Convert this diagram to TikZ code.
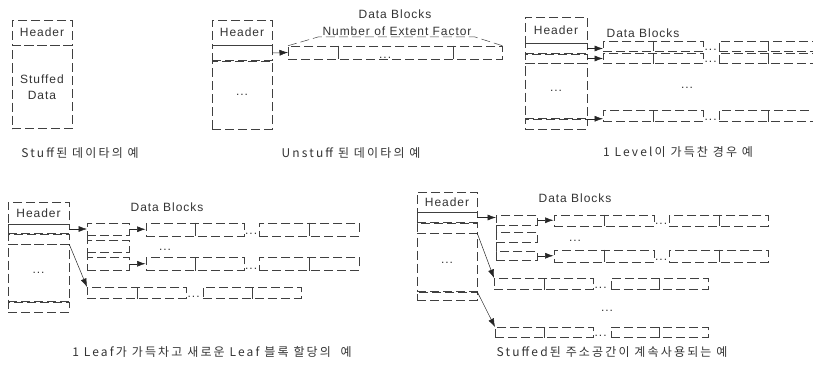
\documentclass[tikz,border=0pt]{standalone}
\usepackage{fontspec}
\setmainfont{Liberation Sans}[LetterSpace=8]
\newfontfamily\kr{Noto Sans CJK KR}[LetterSpace=18]
\usetikzlibrary{positioning,arrows.meta}

\tikzset{
  cell/.style={draw=black!75, line width=0.5pt, dash pattern=on 9pt off 4pt, inner sep=0pt},
  seg/.style={draw=black!75, line width=0.5pt},
  dseg/.style={seg, dash pattern=on 9pt off 4pt},
  ptr/.style={->, draw=black!85, line width=0.5pt},
  dotsty/.style={inner sep=1pt, anchor=south west},
  captxt/.style={font=\kr\fontsize{12}{14}\selectfont},
}

\begin{document}
\begin{tikzpicture}[x=1pt, y=-1pt,
  every node/.style={align=center, font=\fontsize{12}{16}\selectfont, text=black!80},
  >={Latex[length=8.5pt,width=6pt]}]

\useasboundingbox (0,0) rectangle (813,369);
\clip (0,0) rectangle (813,369);

% Stuffed data
\node[cell, minimum width=60, minimum height=25] (hd1) at (42,32.5) {Header};
\node[cell, minimum width=60, minimum height=83, below=0pt of hd1] (sd1) {Stuffed\\Data};
\node[captxt] (cap1) at (80,153) {Stuff된 데이타의 예};

% Unstuffed data
\node[cell, minimum width=60, minimum height=25] (hd2) at (242,32.5) {Header};
\node[cell, minimum width=60, minimum height=15, below=0pt of hd2] (pt2) {};
\node[cell, minimum width=60, minimum height=68, below=0pt of pt2] (rs2) {...};

\node[cell, minimum width=214, minimum height=13, anchor=west] (db2) at (288,52.5) {};
\draw[seg] ([xshift=50]db2.north west) -- ([xshift=50]db2.south west)
  ([xshift=165]db2.north west) -- ([xshift=165]db2.south west);
\node[dotsty] at ([xshift=90]db2.south west) {...};
\draw[dseg] (db2.north west) -- (318,37) -- (475,37) -- (db2.north east);

\node (dbk2) at (395,14) {Data Blocks};
\node (nef2) at (397,31) {Number of Extent Factor};
\draw[ptr] (pt2.east) -- (db2.west);
\node[captxt] (cap2) at (351,153) {Unstuff 된 데이타의 예};

% One level full
\node[cell, minimum width=62, minimum height=26] (hd3) at (556,30) {Header};
\node[cell, minimum width=62, minimum height=10, below=0pt of hd3] (pa3) {};
\node[cell, minimum width=62, minimum height=9, below=0pt of pa3] (pb3) {};
\node[cell, minimum width=62, minimum height=55, below=0pt of pb3] (rs3) {...};
\node[cell, minimum width=62, minimum height=10, below=0pt of rs3] (pc3) {};

\node[cell, minimum width=100, minimum height=10, anchor=north west] (d3aL) at (603,41) {};
\node[cell, minimum width=98, minimum height=10, right=15pt of d3aL] (d3aR) {};
\node[cell, minimum width=98, minimum height=10, right=0pt of d3aR] (d3aT) {};
\node[cell, minimum width=100, minimum height=10, anchor=north west] (d3bL) at (603,53) {};
\node[cell, minimum width=98, minimum height=10, right=15pt of d3bL] (d3bR) {};
\node[cell, minimum width=98, minimum height=10, right=0pt of d3bR] (d3bT) {};
\node[cell, minimum width=100, minimum height=11, anchor=north west] (d3cL) at (603,110) {};
\node[cell, minimum width=98, minimum height=11, right=15pt of d3cL] (d3cR) {};
\node[cell, minimum width=98, minimum height=11, right=0pt of d3cR] (d3cT) {};
\draw[seg] (d3aL.north) -- (d3aL.south) (d3aR.north) -- (d3aR.south)
  (d3bL.north) -- (d3bL.south) (d3bR.north) -- (d3bR.south)
  (d3cL.north) -- (d3cL.south) (d3cR.north) -- (d3cR.south);
\node[dotsty] at (d3aL.south east) {...};
\node[dotsty] at (d3bL.south east) {...};
\node[dotsty] at (d3cL.south east) {...};

\draw[ptr] (pa3.east) -- (pa3.east -| d3aL.west);
\draw[ptr] (pb3.east) -- (pb3.east -| d3bL.west);
\draw[ptr] (pc3.north east) -- (pc3.north east -| d3cL.west);

\node (dbk3) at (643,33) {Data Blocks};
\node (dt3) at (687,88) {...};
\node[captxt] (cap3) at (678,152) {1 Level이 가득찬 경우 예};

% New leaf block
\node[cell, minimum width=61, minimum height=22] (hd4) at (38.5,213) {Header};
\node[cell, minimum width=61, minimum height=9, below=0pt of hd4] (pa4) {};
\node[cell, minimum width=61, minimum height=10, below=0pt of pa4] (pb4) {};
\node[cell, minimum width=61, minimum height=57, below=0pt of pb4] (rs4) {...};
\node[cell, minimum width=61, minimum height=10, below=0pt of rs4] (pc4) {};

\node[cell, minimum width=42, minimum height=12, anchor=north west] (ia4) at (87,223) {};
\node[cell, minimum width=42, minimum height=12, anchor=north west] (ib4) at (87,240) {};
\node[cell, minimum width=42, minimum height=13, anchor=north west] (ic4) at (87,257) {};
\draw[dseg] (ia4.south west) -- (ib4.north west) (ib4.south west) -- (ic4.north west);

\node[cell, minimum width=98, minimum height=13, right=16pt of ia4] (d4aL) {};
\node[cell, minimum width=100, minimum height=13, right=15pt of d4aL] (d4aR) {};
\node[cell, minimum width=98, minimum height=13, right=16pt of ic4] (d4bL) {};
\node[cell, minimum width=100, minimum height=13, right=15pt of d4bL] (d4bR) {};
\node[cell, minimum width=99, minimum height=11, anchor=north west] (d4cL) at (87,287) {};
\node[cell, minimum width=98, minimum height=11, right=16pt of d4cL] (d4cR) {};
\draw[seg] (d4aL.north) -- (d4aL.south) (d4aR.north) -- (d4aR.south)
  (d4bL.north) -- (d4bL.south) (d4bR.north) -- (d4bR.south)
  (d4cL.north) -- (d4cL.south) (d4cR.north) -- (d4cR.south);
\node[dotsty] at (d4aL.south east) {...};
\node[dotsty] at (d4bL.south east) {...};
\node[dotsty] at (d4cL.south east) {...};

\draw[ptr] (pa4.east) -- (pa4.east -| ia4.west);
\draw[ptr] (ia4) -- (d4aL);
\draw[ptr] (ic4) -- (d4bL);
\draw[ptr] (pb4.south east) -- (d4cL.north west);

\node (dbk4) at (167,207) {Data Blocks};
\node (dt4) at (165,250) {...};
\node[captxt] (cap4) at (212,352) {1 Leaf가 가득차고 새로운 Leaf 블록 할당의 \ 예};

% Stuffed address space reused
\node[cell, minimum width=60, minimum height=20] (hd5) at (447,202) {Header};
\node[cell, minimum width=60, minimum height=10, below=0pt of hd5] (pa5) {};
\node[cell, minimum width=60, minimum height=10, below=0pt of pa5] (pb5) {};
\node[cell, minimum width=60, minimum height=58, below=0pt of pb5] (rs5) {...};
\node[cell, minimum width=60, minimum height=8, below=0pt of rs5] (pc5) {};

\node[cell, minimum width=41, minimum height=10, anchor=north west] (ia5) at (496,215) {};
\node[cell, minimum width=41, minimum height=10, anchor=north west] (ib5) at (496,232) {};
\node[cell, minimum width=41, minimum height=9, anchor=north west] (ic5) at (496,251) {};
\draw[dseg] (ia5.south west) -- (ib5.north west) (ib5.south west) -- (ic5.north west);

\node[cell, minimum width=100, minimum height=11, right=16pt of ia5] (d5aL) {};
\node[cell, minimum width=99, minimum height=11, right=15pt of d5aL] (d5aR) {};
\node[cell, minimum width=100, minimum height=12, right=16pt of ic5] (d5bL) {};
\node[cell, minimum width=99, minimum height=12, right=15pt of d5bL] (d5bR) {};
\node[cell, minimum width=99, minimum height=11, anchor=north west] (d5cL) at (494,278) {};
\node[cell, minimum width=97, minimum height=11, right=17pt of d5cL] (d5cR) {};
\node[cell, minimum width=98, minimum height=10, anchor=north west] (d5dL) at (495,327) {};
\node[cell, minimum width=97, minimum height=10, right=17pt of d5dL] (d5dR) {};
\draw[seg] (d5aL.north) -- (d5aL.south) (d5aR.north) -- (d5aR.south)
  (d5bL.north) -- (d5bL.south) (d5bR.north) -- (d5bR.south)
  (d5cL.north) -- (d5cL.south) (d5cR.north) -- (d5cR.south)
  (d5dL.north) -- (d5dL.south) (d5dR.north) -- (d5dR.south);
\node[dotsty] at (d5aL.south east) {...};
\node[dotsty] at (d5bL.south east) {...};
\node[dotsty] at (d5cL.south east) {...};
\node[dotsty] at (d5dL.south east) {...};

\draw[ptr] (pa5.east) -- (pa5.east -| ia5.west);
\draw[ptr] (ia5) -- (d5aL);
\draw[ptr] (ic5) -- (d5bL);
\draw[ptr] (pb5.south east) -- (d5cL.north west);
\draw[ptr] (pc5.north east) -- (d5dL.north west);

\node (dbk5) at (575,198) {Data Blocks};
\node (dt5a) at (575,241) {...};
\node (dt5b) at (607,311) {...};
\node[captxt] (cap5) at (612,352) {Stuffed된 주소공간이 계속사용되는 예};

\end{tikzpicture}
\end{document}
